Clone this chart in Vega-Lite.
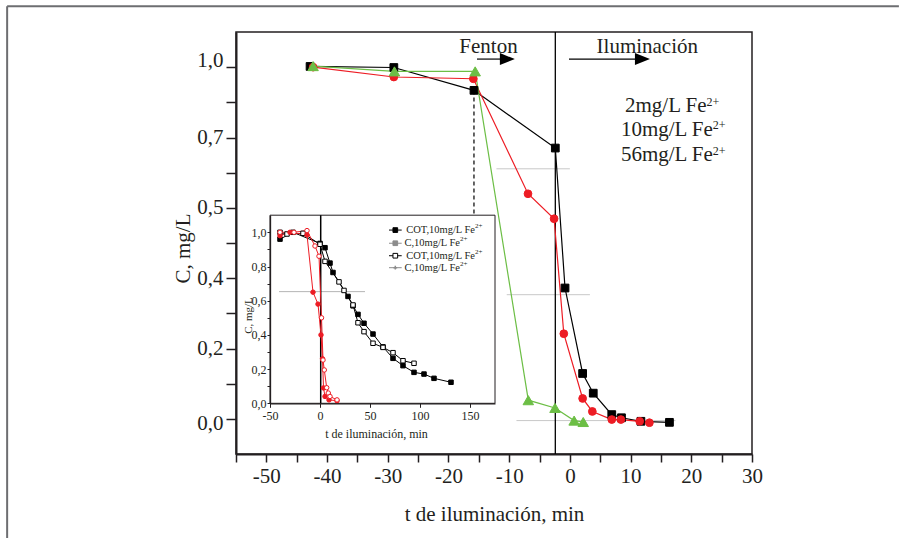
{
  "$schema": "https://vega.github.io/schema/vega-lite/v6.json",
  "width": 516,
  "height": 422,
  "autosize": {"type": "none"},
  "padding": {"left": 236, "top": 32, "right": 155, "bottom": 84},
  "background": "white",
  "config": {
    "view": {"stroke": "#231f20", "strokeWidth": 1.5},
    "axis": {"labelFont": "Liberation Serif", "titleFont": "Liberation Serif", "titleFontWeight": "normal", "labelColor": "#231f20", "titleColor": "#231f20", "tickColor": "#231f20", "domainColor": "#231f20", "grid": false, "labelFlush": false, "labelOverlap": false, "labelBound": false},
    "text": {"font": "Liberation Serif", "color": "#231f20"}
  },
  "datasets": {
    "mainSeries": [
      {"t": -42.8, "C": 1.002, "s": "b"}, {"t": -29.0, "C": 0.999, "s": "b"}, {"t": -15.8, "C": 0.934, "s": "b"}, {"t": -2.4, "C": 0.770, "s": "b"}, {"t": -0.8, "C": 0.372, "s": "b"}, {"t": 2.1, "C": 0.129, "s": "b"}, {"t": 3.85, "C": 0.073, "s": "b"}, {"t": 6.9, "C": 0.012, "s": "b"}, {"t": 8.5, "C": 0.003, "s": "b"}, {"t": 11.7, "C": -0.007, "s": "b"}, {"t": 16.4, "C": -0.010, "s": "b"},
      {"t": -42.3, "C": 1.0, "s": "r"}, {"t": -29.0, "C": 0.972, "s": "r"}, {"t": -15.9, "C": 0.967, "s": "r"}, {"t": -6.9, "C": 0.640, "s": "r"}, {"t": -2.6, "C": 0.569, "s": "r"}, {"t": -1.0, "C": 0.242, "s": "r"}, {"t": 2.1, "C": 0.058, "s": "r"}, {"t": 3.7, "C": 0.021, "s": "r"}, {"t": 6.9, "C": -0.002, "s": "r"}, {"t": 8.4, "C": -0.002, "s": "r"}, {"t": 11.5, "C": -0.007, "s": "r"}, {"t": 13.1, "C": -0.011, "s": "r"},
      {"t": -42.3, "C": 1.003, "s": "g"}, {"t": -28.9, "C": 0.988, "s": "g"}, {"t": -15.6, "C": 0.988, "s": "g"}, {"t": -6.85, "C": 0.053, "s": "g"}, {"t": -2.45, "C": 0.031, "s": "g"}, {"t": 0.7, "C": -0.005, "s": "g"}, {"t": 2.2, "C": -0.009, "s": "g"}
    ],
    "frame": [
      {"t": -92.7, "C": 1.173, "t2": 54.2, "C2": 1.173},
      {"t": -92.7, "C": 1.173, "t2": -92.7, "C2": -0.34}
    ],
    "grayMain": [
      {"t": -12.1, "t2": 0.0, "C": 0.711},
      {"t": -10.4, "t2": 3.3, "C": 0.353},
      {"t": -8.8, "t2": 17.4, "C": -0.005}
    ],
    "dashV": [{"t": -15.8, "C": 0.934, "C2": 0.575}],
    "solidV": [{"t": -2.4, "C": -0.1, "C2": 1.1}],
    "arrowShafts": [{"t": -15.3, "t2": -11.0, "C": 1.023}, {"t": -0.15, "t2": 11.2, "C": 1.023}],
    "arrowHeads": [{"t": -10.3, "C": 1.023}, {"t": 11.95, "C": 1.023}],
    "phaseLabels": [{"t": -13.4, "C": 1.040, "label": "Fenton"}, {"t": 12.75, "C": 1.040, "label": "Iluminación"}],
    "feLabels": [{"t": 22.5, "C": 0.8715, "label": "2mg/L Fe"}, {"t": 23.55, "C": 0.805, "label": "10mg/L Fe"}, {"t": 23.55, "C": 0.732, "label": "56mg/L Fe"}],
    "feSup": [{"t": 22.5, "C": 0.8905, "label": "2+"}, {"t": 23.55, "C": 0.824, "label": "2+"}, {"t": 23.55, "C": 0.751, "label": "2+"}],
    "insetBox": [{"t": -50, "t2": 175, "C": 0, "C2": 1.1}],
    "insetGray": [{"t": -41, "t2": 45, "C": 0.653}],
    "insetV": [{"t": 0.7, "C": 0, "C2": 1.1}],
    "insetSeries": [
      {"t": -40, "C": 0.96, "s": "COTa"}, {"t": -27, "C": 1.0, "s": "COTa"}, {"t": 0, "C": 0.935, "s": "COTa"}, {"t": 5, "C": 0.91, "s": "COTa"}, {"t": 10, "C": 0.82, "s": "COTa"}, {"t": 13, "C": 0.765, "s": "COTa"}, {"t": 28, "C": 0.625, "s": "COTa"}, {"t": 33, "C": 0.57, "s": "COTa"}, {"t": 38, "C": 0.52, "s": "COTa"}, {"t": 44, "C": 0.468, "s": "COTa"}, {"t": 53, "C": 0.405, "s": "COTa"}, {"t": 63, "C": 0.33, "s": "COTa"}, {"t": 73, "C": 0.263, "s": "COTa"}, {"t": 83, "C": 0.22, "s": "COTa"}, {"t": 94, "C": 0.181, "s": "COTa"}, {"t": 104, "C": 0.171, "s": "COTa"}, {"t": 114, "C": 0.146, "s": "COTa"}, {"t": 131, "C": 0.123, "s": "COTa"},
      {"t": -40, "C": 1.0, "s": "COTb"}, {"t": -33, "C": 0.99, "s": "COTb"}, {"t": -17, "C": 0.994, "s": "COTb"}, {"t": 0, "C": 0.93, "s": "COTb"}, {"t": 5, "C": 0.83, "s": "COTb"}, {"t": 19, "C": 0.71, "s": "COTb"}, {"t": 24, "C": 0.66, "s": "COTb"}, {"t": 33, "C": 0.575, "s": "COTb"}, {"t": 38, "C": 0.471, "s": "COTb"}, {"t": 44, "C": 0.419, "s": "COTb"}, {"t": 53, "C": 0.351, "s": "COTb"}, {"t": 63, "C": 0.327, "s": "COTb"}, {"t": 73, "C": 0.296, "s": "COTb"}, {"t": 83, "C": 0.249, "s": "COTb"}, {"t": 94, "C": 0.234, "s": "COTb"},
      {"t": -40, "C": 0.98, "s": "Ca"}, {"t": -30, "C": 1.0, "s": "Ca"}, {"t": -13, "C": 0.985, "s": "Ca"}, {"t": -7, "C": 0.65, "s": "Ca"}, {"t": -2, "C": 0.58, "s": "Ca"}, {"t": 1, "C": 0.4, "s": "Ca"}, {"t": 2.5, "C": 0.26, "s": "Ca"}, {"t": 3.5, "C": 0.09, "s": "Ca"}, {"t": 5, "C": 0.04, "s": "Ca"}, {"t": 9, "C": 0.02, "s": "Ca"}, {"t": 17, "C": 0.015, "s": "Ca"},
      {"t": -40, "C": 1.0, "s": "Cb"}, {"t": -26, "C": 1.0, "s": "Cb"}, {"t": -13, "C": 1.01, "s": "Cb"}, {"t": -5, "C": 0.92, "s": "Cb"}, {"t": -1, "C": 0.86, "s": "Cb"}, {"t": 1.5, "C": 0.5, "s": "Cb"}, {"t": 3, "C": 0.253, "s": "Cb"}, {"t": 4.3, "C": 0.195, "s": "Cb"}, {"t": 6.7, "C": 0.091, "s": "Cb"}, {"t": 8.3, "C": 0.06, "s": "Cb"}, {"t": 10, "C": 0.04, "s": "Cb"}, {"t": 17, "C": 0.02, "s": "Cb"}
    ],
    "legendLines": [
      {"t": 69, "t2": 81.7, "C": 1.013, "s": "COTa"},
      {"t": 69, "t2": 81.7, "C": 0.936, "s": "G1"},
      {"t": 69, "t2": 81.7, "C": 0.863, "s": "COTb"},
      {"t": 69, "t2": 81.7, "C": 0.793, "s": "G2"}
    ],
    "legendSym": [
      {"t": 75.3, "C": 1.013, "s": "COTa"},
      {"t": 75.3, "C": 0.936, "s": "G1"},
      {"t": 75.3, "C": 0.863, "s": "COTb"}
    ],
    "legendSym4": [{"t": 75.3, "C": 0.793, "s": "G2"}],
    "legendText": [
      {"t": 155, "C": 1.013, "label": "COT,10mg/L Fe"},
      {"t": 140, "C": 0.936, "label": "C,10mg/L Fe"},
      {"t": 155, "C": 0.863, "label": "COT,10mg/L Fe"},
      {"t": 140, "C": 0.793, "label": "C,10mg/L Fe"}
    ],
    "legendSup": [
      {"t": 155, "C": 1.035, "label": "2+"},
      {"t": 140, "C": 0.958, "label": "2+"},
      {"t": 155, "C": 0.885, "label": "2+"},
      {"t": 140, "C": 0.815, "label": "2+"}
    ]
  },
  "layer": [
    {
      "encoding": {
        "x": {"field": "t", "type": "quantitative", "scale": {"domain": [-55, 30], "nice": false, "zero": false},
          "axis": {"title": "t de iluminación, min", "values": [-55, -50, -45, -40, -35, -30, -25, -20, -15, -10, -5, 0, 5, 10, 15, 20, 25, 30], "labelExpr": "datum.value % 10 == 0 ? '' + datum.value : ''", "tickSize": 8, "tickWidth": 1.5, "domainWidth": 2, "labelFontSize": 21, "labelPadding": 3, "titleFontSize": 21, "titleBaseline": "alphabetic", "titleY": 66}},
        "y": {"field": "C", "type": "quantitative", "scale": {"domain": [-0.1, 1.1], "nice": false, "zero": false},
          "axis": {"title": "C, mg/L", "values": [0, 0.1, 0.2, 0.3, 0.4, 0.5, 0.6, 0.7, 0.8, 0.9, 1.0], "labelExpr": "datum.value > 0.95 ? '1,0' : abs(datum.value-0.8)<0.01 ? '0,7' : abs(datum.value-0.6)<0.01 ? '0,5' : abs(datum.value-0.4)<0.01 ? '0,4' : abs(datum.value-0.2)<0.01 ? '0,2' : datum.value < 0.01 ? '0,0' : ''", "labelOffset": {"condition": [{"test": "datum.value > 0.95", "value": -7}, {"test": "datum.value < 0.05", "value": 5}], "value": 0}, "tickSize": 10, "tickWidth": 1.5, "domainWidth": 2, "labelFontSize": 21, "labelPadding": 3, "titleFontSize": 21, "titleX": -53, "titleY": 216, "titleAngle": -90, "titleAlign": "center", "titleBaseline": "middle"}}
      },
      "layer": [
        {"data": {"name": "frame"}, "mark": {"type": "rule", "color": "#6d6e71", "strokeWidth": 2}, "encoding": {"x2": {"field": "t2"}, "y2": {"field": "C2"}}},
        {"data": {"name": "grayMain"}, "mark": {"type": "rule", "color": "#c8c8c8", "strokeWidth": 1}, "encoding": {"x2": {"field": "t2"}}},
        {"data": {"name": "dashV"}, "mark": {"type": "rule", "color": "#000000", "strokeWidth": 1.2, "strokeDash": [4, 3]}, "encoding": {"y2": {"field": "C2"}}},
        {"data": {"name": "solidV"}, "mark": {"type": "rule", "color": "#000000", "strokeWidth": 1.3}, "encoding": {"y2": {"field": "C2"}}},
        {"data": {"name": "mainSeries"}, "mark": {"type": "line", "strokeWidth": 1.2},
          "encoding": {"stroke": {"field": "s", "type": "nominal", "legend": null, "scale": {"domain": ["b", "r", "g", "COTa", "COTb", "Ca", "Cb", "G1", "G2"], "range": ["#000000", "#ed1c24", "#6cbe45", "#000000", "#000000", "#ed1c24", "#ed1c24", "#8c8c8c", "#8c8c8c"]}}}},
        {"data": {"name": "mainSeries"}, "transform": [{"filter": "datum.s != 'g'"}], "mark": {"type": "point", "opacity": 1, "strokeWidth": 1, "size": 60},
          "encoding": {
            "stroke": {"field": "s", "type": "nominal", "legend": null, "scale": {"domain": ["b", "r", "g", "COTa", "COTb", "Ca", "Cb", "G1", "G2"], "range": ["#000000", "#ed1c24", "#6cbe45", "#000000", "#000000", "#ed1c24", "#ed1c24", "#8c8c8c", "#8c8c8c"]}},
            "fill": {"field": "s", "type": "nominal", "legend": null, "scale": {"domain": ["b", "r", "g", "COTa", "COTb", "Ca", "Cb", "G1", "G2"], "range": ["#000000", "#ed1c24", "#6cbe45", "#000000", "#ffffff", "#ed1c24", "#ffffff", "#8c8c8c", "#8c8c8c"]}},
            "shape": {"field": "s", "type": "nominal", "legend": null, "scale": {"domain": ["b", "r", "g", "COTa", "COTb", "Ca", "Cb", "G1", "G2"], "range": ["square", "circle", "triangle-up", "square", "square", "circle", "circle", "square", "cross"]}}
          }},
        {"data": {"name": "mainSeries"}, "transform": [{"filter": "datum.s == 'g'"}], "mark": {"type": "point", "opacity": 1, "strokeWidth": 1, "size": 110},
          "encoding": {
            "stroke": {"field": "s", "type": "nominal", "legend": null, "scale": {"domain": ["b", "r", "g", "COTa", "COTb", "Ca", "Cb", "G1", "G2"], "range": ["#000000", "#ed1c24", "#6cbe45", "#000000", "#000000", "#ed1c24", "#ed1c24", "#8c8c8c", "#8c8c8c"]}},
            "fill": {"field": "s", "type": "nominal", "legend": null, "scale": {"domain": ["b", "r", "g", "COTa", "COTb", "Ca", "Cb", "G1", "G2"], "range": ["#000000", "#ed1c24", "#6cbe45", "#000000", "#ffffff", "#ed1c24", "#ffffff", "#8c8c8c", "#8c8c8c"]}},
            "shape": {"field": "s", "type": "nominal", "legend": null, "scale": {"domain": ["b", "r", "g", "COTa", "COTb", "Ca", "Cb", "G1", "G2"], "range": ["square", "circle", "triangle-up", "square", "square", "circle", "circle", "square", "cross"]}}
          }},
        {"data": {"name": "arrowShafts"}, "mark": {"type": "rule", "color": "#000000", "strokeWidth": 1.2}, "encoding": {"x2": {"field": "t2"}}},
        {"data": {"name": "arrowHeads"}, "mark": {"type": "point", "shape": "M-1,-0.8L1,0L-1,0.8Z", "size": 225, "filled": true, "color": "#000000", "opacity": 1}, "encoding": {}},
        {"data": {"name": "phaseLabels"}, "mark": {"type": "text", "fontSize": 21, "align": "center", "baseline": "alphabetic"}, "encoding": {"text": {"field": "label"}}},
        {"data": {"name": "feLabels"}, "mark": {"type": "text", "fontSize": 21, "align": "right", "baseline": "alphabetic"}, "encoding": {"text": {"field": "label"}}},
        {"data": {"name": "feSup"}, "mark": {"type": "text", "fontSize": 12, "align": "left", "baseline": "alphabetic"}, "encoding": {"text": {"field": "label"}}}
      ]
    },
    {
      "encoding": {
        "x": {"field": "t", "type": "quantitative", "scale": {"domain": [-50, 175], "range": [34, 259], "nice": false, "zero": false},
          "axis": {"orient": "bottom", "offset": -50.7, "zindex": 1, "title": "t de iluminación, min", "values": [-50, 0, 50, 100, 150], "labelExpr": "'' + datum.value", "tickSize": 4, "tickWidth": 1, "domainWidth": 1.3, "labelFontSize": 12, "labelPadding": 3, "titleFontSize": 12, "titleBaseline": "alphabetic", "titleX": 140, "titleY": 34}},
        "y": {"field": "C", "type": "quantitative", "scale": {"domain": [0, 1.1], "range": [371.3, 183.2], "nice": false, "zero": false},
          "axis": {"orient": "left", "offset": -34, "zindex": 1, "title": "C, mg/L", "values": [0, 0.1, 0.2, 0.3, 0.4, 0.5, 0.6, 0.7, 0.8, 0.9, 1.0], "labelExpr": "round(datum.value*10) % 2 == 0 ? replace(format(datum.value, '.1f'), '.', ',') : ''", "tickSize": 3, "tickWidth": 1, "domainWidth": 1.3, "labelFontSize": 12, "labelPadding": 1, "titleFontSize": 11, "titleX": -22, "titleY": 283, "titleAngle": -90, "titleAlign": "center", "titleBaseline": "middle"}}
      },
      "layer": [
        {"data": {"name": "insetBox"}, "mark": {"type": "rect", "fill": "#ffffff", "stroke": "#231f20", "strokeWidth": 1}, "encoding": {"x2": {"field": "t2"}, "y2": {"field": "C2"}}},
        {"data": {"name": "insetGray"}, "mark": {"type": "rule", "color": "#b4b4b4", "strokeWidth": 1}, "encoding": {"x2": {"field": "t2"}}},
        {"data": {"name": "insetV"}, "mark": {"type": "rule", "color": "#000000", "strokeWidth": 1.5}, "encoding": {"y2": {"field": "C2"}}},
        {"data": {"name": "insetSeries"}, "mark": {"type": "line", "strokeWidth": 1},
          "encoding": {"stroke": {"field": "s", "type": "nominal", "legend": null, "scale": {"domain": ["b", "r", "g", "COTa", "COTb", "Ca", "Cb", "G1", "G2"], "range": ["#000000", "#ed1c24", "#6cbe45", "#000000", "#000000", "#ed1c24", "#ed1c24", "#8c8c8c", "#8c8c8c"]}}}},
        {"data": {"name": "insetSeries"}, "mark": {"type": "point", "opacity": 1, "size": 20, "strokeWidth": 1},
          "encoding": {
            "stroke": {"field": "s", "type": "nominal", "legend": null, "scale": {"domain": ["b", "r", "g", "COTa", "COTb", "Ca", "Cb", "G1", "G2"], "range": ["#000000", "#ed1c24", "#6cbe45", "#000000", "#000000", "#ed1c24", "#ed1c24", "#8c8c8c", "#8c8c8c"]}},
            "fill": {"field": "s", "type": "nominal", "legend": null, "scale": {"domain": ["b", "r", "g", "COTa", "COTb", "Ca", "Cb", "G1", "G2"], "range": ["#000000", "#ed1c24", "#6cbe45", "#000000", "#ffffff", "#ed1c24", "#ffffff", "#8c8c8c", "#8c8c8c"]}},
            "shape": {"field": "s", "type": "nominal", "legend": null, "scale": {"domain": ["b", "r", "g", "COTa", "COTb", "Ca", "Cb", "G1", "G2"], "range": ["square", "circle", "triangle-up", "square", "square", "circle", "circle", "square", "cross"]}}
          }},
        {"data": {"name": "legendLines"}, "mark": {"type": "rule", "strokeWidth": 1},
          "encoding": {"x2": {"field": "t2"}, "stroke": {"field": "s", "type": "nominal", "legend": null, "scale": {"domain": ["b", "r", "g", "COTa", "COTb", "Ca", "Cb", "G1", "G2"], "range": ["#000000", "#ed1c24", "#6cbe45", "#000000", "#000000", "#ed1c24", "#ed1c24", "#8c8c8c", "#8c8c8c"]}}}},
        {"data": {"name": "legendSym"}, "mark": {"type": "point", "opacity": 1, "size": 22, "strokeWidth": 1},
          "encoding": {
            "stroke": {"field": "s", "type": "nominal", "legend": null, "scale": {"domain": ["b", "r", "g", "COTa", "COTb", "Ca", "Cb", "G1", "G2"], "range": ["#000000", "#ed1c24", "#6cbe45", "#000000", "#000000", "#ed1c24", "#ed1c24", "#8c8c8c", "#8c8c8c"]}},
            "fill": {"field": "s", "type": "nominal", "legend": null, "scale": {"domain": ["b", "r", "g", "COTa", "COTb", "Ca", "Cb", "G1", "G2"], "range": ["#000000", "#ed1c24", "#6cbe45", "#000000", "#ffffff", "#ed1c24", "#ffffff", "#8c8c8c", "#8c8c8c"]}},
            "shape": {"field": "s", "type": "nominal", "legend": null, "scale": {"domain": ["b", "r", "g", "COTa", "COTb", "Ca", "Cb", "G1", "G2"], "range": ["square", "circle", "triangle-up", "square", "square", "circle", "circle", "square", "cross"]}}
          }},
        {"data": {"name": "legendSym4"}, "mark": {"type": "point", "shape": "cross", "size": 14, "filled": true, "color": "#8c8c8c", "opacity": 1}, "encoding": {}},
        {"data": {"name": "legendText"}, "mark": {"type": "text", "fontSize": 10.5, "align": "right", "baseline": "middle"}, "encoding": {"text": {"field": "label"}}},
        {"data": {"name": "legendSup"}, "mark": {"type": "text", "fontSize": 7, "align": "left", "baseline": "middle"}, "encoding": {"text": {"field": "label"}}}
      ]
    }
  ],
  "resolve": {"scale": {"x": "independent", "y": "independent"}, "axis": {"x": "independent", "y": "independent"}}
}
